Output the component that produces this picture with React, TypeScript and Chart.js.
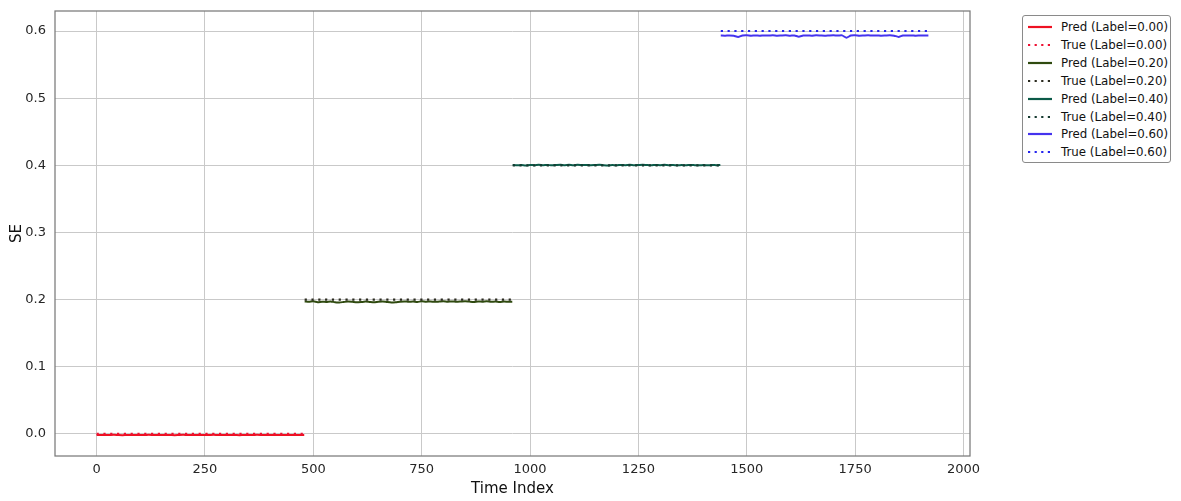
import React, { useEffect, useRef } from "react";
import { Chart, registerables } from "chart.js";

Chart.register(...registerables);

// ---- data ----
const segmentStarts = [0, 480, 960, 1440];
const segmentLength = 480;
const sampleStep = 10;
const labelValues = [0.0, 0.2, 0.4, 0.6];

const predLabel000 = [
  -0.0016, -0.0014, -0.0017, -0.0015, -0.0013, -0.0016, -0.0018, -0.0014, -0.0015, -0.0017,
  -0.0014, -0.0016, -0.0013, -0.0015, -0.0017, -0.0016, -0.0014, -0.0015, -0.0018, -0.0015,
  -0.0013, -0.0016, -0.0015, -0.0017, -0.0014, -0.0016, -0.0015, -0.0013, -0.0017, -0.0016,
  -0.0014, -0.0015, -0.0016, -0.0018, -0.0014, -0.0015, -0.0016, -0.0013, -0.0015, -0.0017,
  -0.0016, -0.0014, -0.0015, -0.0016, -0.0014, -0.0017, -0.0015, -0.0016, -0.0015,
];
const predLabel020 = [
  0.1972, 0.1968, 0.1975, 0.1963, 0.1970, 0.1966, 0.1974, 0.1961, 0.1958, 0.1965,
  0.1972, 0.1967, 0.1960, 0.1964, 0.1971, 0.1966, 0.1962, 0.1969, 0.1973, 0.1965,
  0.1959, 0.1963, 0.1970, 0.1974, 0.1968, 0.1972, 0.1966, 0.1975, 0.1969, 0.1973,
  0.1967, 0.1971, 0.1976, 0.1970, 0.1974, 0.1968, 0.1972, 0.1977, 0.1971, 0.1966,
  0.1973, 0.1969, 0.1975, 0.1968, 0.1972, 0.1966, 0.1971, 0.1968, 0.1970,
];
const predLabel040 = [
  0.4006, 0.4001, 0.4004, 0.3999, 0.4005, 0.4002, 0.4008, 0.4003, 0.4006, 0.4000,
  0.4005, 0.4009, 0.4003, 0.4007, 0.4001, 0.4010, 0.4004, 0.4006, 0.4001, 0.4004,
  0.4007, 0.4002, 0.3999, 0.4004, 0.4001, 0.4006, 0.4003, 0.4008, 0.4002, 0.4005,
  0.4009, 0.4004, 0.4001, 0.4006, 0.4003, 0.4007, 0.4002, 0.4005, 0.4000, 0.4004,
  0.4001, 0.4006, 0.4003, 0.4000, 0.4004, 0.4001, 0.4005, 0.4002, 0.4006,
];
const predLabel060 = [
  0.5932, 0.5930, 0.5934, 0.5929, 0.5912, 0.5933, 0.5936, 0.5931, 0.5934, 0.5930,
  0.5935, 0.5932, 0.5937, 0.5931, 0.5934, 0.5936, 0.5930, 0.5933, 0.5915, 0.5932,
  0.5935, 0.5931, 0.5936, 0.5933, 0.5930, 0.5934, 0.5937, 0.5932, 0.5935, 0.5900,
  0.5933, 0.5936, 0.5931, 0.5934, 0.5937, 0.5932, 0.5935, 0.5930, 0.5933, 0.5936,
  0.5931, 0.5912, 0.5934, 0.5932, 0.5935, 0.5930, 0.5934, 0.5932, 0.5933,
];
const predSeries = [predLabel000, predLabel020, predLabel040, predLabel060];

const xTicks = [0, 250, 500, 750, 1000, 1250, 1500, 1750, 2000];
const yTicks = [0.0, 0.1, 0.2, 0.3, 0.4, 0.5, 0.6];

const predColors = ["#ee1122", "#2f4a0f", "#0b5a48", "#4533ee"];
const trueColors = ["#ee1133", "#2a2a1e", "#163a30", "#2525ee"];

// ---- helpers ----
function sampleIndices(start: number, count: number): number[] {
  const xs: number[] = [];
  for (let i = 0; i < count - 1; i++) xs.push(start + i * sampleStep);
  xs.push(start + segmentLength - 1);
  return xs;
}

const frame = {
  id: "frame",
  afterDraw(chart: any) {
    const { ctx, chartArea } = chart;
    ctx.save();
    ctx.strokeStyle = "#7a7a7a";
    ctx.lineWidth = 1.25;
    ctx.strokeRect(chartArea.left, chartArea.top, chartArea.right - chartArea.left, chartArea.bottom - chartArea.top);
    ctx.restore();
  },
};

const legendItems = labelValues.flatMap((v, i) => [
  { text: `Pred (Label=${v.toFixed(2)})`, color: predColors[i], dotted: false },
  { text: `True (Label=${v.toFixed(2)})`, color: trueColors[i], dotted: true },
]);

export default function App() {
  const ref = useRef<HTMLCanvasElement | null>(null);

  useEffect(() => {
    document.body.style.margin = "0";
    const datasets: any[] = [];
    labelValues.forEach((v, i) => {
      const ys = predSeries[i];
      const xs = sampleIndices(segmentStarts[i], ys.length);
      datasets.push({
        label: `Pred (Label=${v.toFixed(2)})`,
        data: xs.map((x, k) => ({ x, y: ys[k] })),
        borderColor: predColors[i],
        borderWidth: 2,
        pointRadius: 0,
        tension: 0.2,
        order: 1,
      });
      datasets.push({
        label: `True (Label=${v.toFixed(2)})`,
        data: xs.map((x) => ({ x, y: v })),
        borderColor: trueColors[i],
        borderWidth: 2.2,
        borderDash: [2.2, 4.6],
        pointRadius: 0,
        order: 0,
      });
    });

    const font = { family: "'DejaVu Sans', sans-serif", size: 13 };
    const chart = new Chart(ref.current as HTMLCanvasElement, {
      type: "line",
      data: { datasets },
      plugins: [frame],
      options: {
        animation: false,
        responsive: true,
        maintainAspectRatio: false,
        layout: { padding: { left: 0, right: 211, top: 11, bottom: 0 } },
        plugins: { legend: { display: false }, tooltip: { enabled: false } },
        scales: {
          x: {
            type: "linear",
            min: -96,
            max: 2015,
            afterBuildTicks: (s: any) => {
              s.ticks = xTicks.map((value) => ({ value }));
            },
            afterFit: (s: any) => {
              s.height = 45;
              s.paddingLeft = 0;
              s.paddingRight = 0;
            },
            grid: { color: "#c9c9c9", lineWidth: 1, drawTicks: false },
            border: { display: false },
            ticks: { font, color: "#262626", padding: 6, maxRotation: 0, callback: (v: any) => String(v) },
            title: {
              display: true,
              text: "Time Index",
              font: { family: "'DejaVu Sans', sans-serif", size: 15 },
              color: "#111",
              padding: { top: 0, bottom: 3 },
            },
          },
          y: {
            type: "linear",
            min: -0.0328,
            max: 0.6298,
            afterBuildTicks: (s: any) => {
              s.ticks = yTicks.map((value) => ({ value }));
            },
            afterFit: (s: any) => {
              s.width = 55;
              s.paddingTop = 0;
              s.paddingBottom = 0;
            },
            grid: { color: "#c9c9c9", lineWidth: 1, drawTicks: false },
            border: { display: false },
            ticks: { font, color: "#262626", padding: 9, callback: (v: any) => Number(v).toFixed(1) },
            title: {
              display: true,
              text: "SE",
              font: { family: "'DejaVu Sans', sans-serif", size: 15 },
              color: "#111",
              padding: { top: 8, bottom: 0 },
            },
          },
        },
      },
    } as any);
    return () => chart.destroy();
  }, []);

  return (
    <div style={{ position: "relative", width: 1181, height: 501 }}>
      <canvas ref={ref} />
      <div
        style={{
          position: "absolute",
          left: 1022,
          top: 15,
          width: 147,
          height: 146,
          border: "1px solid #8a8a8a",
          borderRadius: 3,
          background: "#fff",
          fontFamily: "'DejaVu Sans', sans-serif",
          fontSize: 11.8,
          color: "#111",
        }}
      >
        {legendItems.map((it, i) => (
          <div
            key={i}
            style={{ position: "absolute", left: 4, top: 2 + i * 17.9, height: 18, display: "flex", alignItems: "center", whiteSpace: "nowrap" }}
          >
            <svg width={26} height={8} style={{ marginRight: 8 }}>
              <line
                x1={1}
                y1={4}
                x2={25}
                y2={4}
                stroke={it.color}
                strokeWidth={2.2}
                strokeDasharray={it.dotted ? "2.2 4.4" : undefined}
              />
            </svg>
            <span>{it.text}</span>
          </div>
        ))}
      </div>
    </div>
  );
}
